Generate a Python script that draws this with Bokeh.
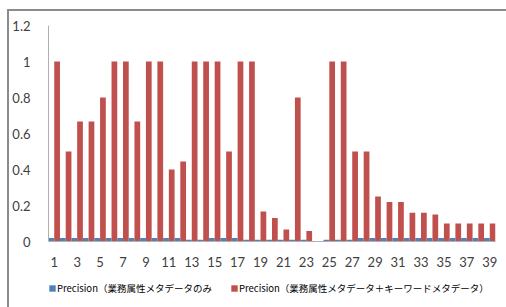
from bokeh.plotting import figure
from bokeh.layouts import column
from bokeh.models import ColumnDataSource, FixedTicker, Legend, LegendItem, Range1d
from bokeh.transform import dodge
from bokeh.embed import file_html
from bokeh.resources import INLINE

categories = list(range(1, 40))
blue_values = [0.02, 0.02, 0.02, 0.02, 0.02, 0.02, 0.02, 0.02, 0.02, 0.02,
               0.02, 0.02, 0.01, 0.01, 0.02, 0.02, 0.02, 0.01, 0.01, 0.01,
               0.01, 0.01, 0.01, 0.0, 0.01, 0.01, 0.01, 0.02, 0.02, 0.02,
               0.02, 0.02, 0.02, 0.02, 0.02, 0.02, 0.02, 0.02, 0.02]
red_values = [1.0, 0.5, 0.667, 0.667, 0.8, 1.0, 1.0, 0.667, 1.0, 1.0,
              0.4, 0.444, 1.0, 1.0, 1.0, 0.5, 1.0, 1.0, 0.167, 0.13,
              0.0667, 0.8, 0.0588, 0.0, 1.0, 1.0, 0.5, 0.5, 0.25, 0.22,
              0.22, 0.16, 0.16, 0.15, 0.1, 0.1, 0.1, 0.1, 0.1]
x_tick_labels = list(range(1, 40, 2))
y_ticks = [0, 0.2, 0.4, 0.6, 0.8, 1.0, 1.2]
series_names = ["Precision（業務属性メタデータのみ",
                "Precision（業務属性メタデータ＋キーワードメタデータ）"]
blue = "#4F81BD"
red = "#C0504D"

src = ColumnDataSource(dict(x=categories, blue=blue_values, red=red_values))

p = figure(width=497, height=265, output_backend="svg", toolbar_location=None,
           x_range=Range1d(0.5, 39.5), y_range=Range1d(0, 1.2),
           min_border_left=39, min_border_right=11, min_border_top=14,
           min_border_bottom=35)
p.outline_line_color = None
p.xgrid.visible = False
p.ygrid.visible = False

p.vbar(x=dodge("x", -0.25, range=p.x_range), top="blue", width=0.5, bottom=0,
       source=src, fill_color=blue, line_color=None)
p.vbar(x=dodge("x", 0.25, range=p.x_range), top="red", width=0.5, bottom=0,
       source=src, fill_color=red, line_color=None)

for ax in (p.xaxis[0], p.yaxis[0]):
    ax.axis_line_color = "#b0b0b0"
    ax.major_tick_line_color = None
    ax.minor_tick_line_color = None
    ax.major_label_text_font = "Lato"
    ax.major_label_text_font_size = "13px"
    ax.major_label_text_color = "#404040"

p.xaxis.ticker = FixedTicker(ticks=x_tick_labels)
p.xaxis.major_label_standoff = 9
p.yaxis.ticker = FixedTicker(ticks=y_ticks)
p.yaxis.major_label_standoff = 12
p.yaxis.major_label_overrides = {0: "0", 1.0: "1"}

# legend strip (its bars lie outside its visible range; only the legend shows)
lg = figure(width=497, height=31, output_backend="svg", toolbar_location=None,
            x_range=Range1d(0, 1), y_range=Range1d(0, 1),
            x_axis_type=None, y_axis_type=None,
            min_border=0, min_border_left=0, min_border_right=0,
            min_border_top=0, min_border_bottom=0)
lg.outline_line_color = None
lg.grid.visible = False
dummy = ColumnDataSource(dict(x=[-10], top=[-5]))
lb = lg.vbar(x="x", top="top", width=0.1, source=dummy, fill_color=blue, line_color=None)
lr = lg.vbar(x="x", top="top", width=0.1, source=dummy, fill_color=red, line_color=None)

legend = Legend(items=[LegendItem(label=series_names[0], renderers=[lb]),
                       LegendItem(label=series_names[1], renderers=[lr])],
                orientation="horizontal", location=(0, 12))
legend.label_text_font = "Noto Sans CJK JP"
legend.label_text_font_size = "9.5px"
legend.label_text_color = "#000000"
legend.label_height = 10
legend.glyph_width = 8
legend.glyph_height = 8
legend.label_standoff = 1
legend.spacing = 18
legend.padding = 0
legend.margin = 0
legend.border_line_color = None
legend.background_fill_color = None
lg.add_layout(legend, "center")

layout = column(p, lg, spacing=0)
layout.styles = {"margin-left": "7px", "margin-top": "9px",
                 "border-left": "2px solid #8c8c8c", "border-top": "2px solid #8c8c8c"}

open("out.html", "w").write(file_html(layout, INLINE))
